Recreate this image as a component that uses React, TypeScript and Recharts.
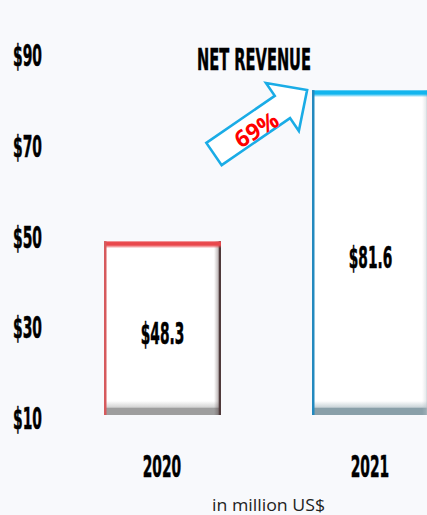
import { BarChart, Bar, XAxis, YAxis, LabelList } from "recharts";

const YEARS = ["2020", "2021"];
const NET_REVENUE = [48.3, 81.6];
const Y_TICKS = [10, 30, 50, 70, 90];
const GROWTH_LABEL = "69%";
const TITLE = "NET REVENUE";
const UNIT_NOTE = "in million US$";

const chartData = YEARS.map((year, i) => ({ year, value: NET_REVENUE[i] }));

const BG = "#f8f9fc";
const CONDENSED = "'Liberation Sans Narrow', 'DejaVu Sans Condensed', 'Liberation Sans', sans-serif";

// edge colours for the bevelled bars, one per year
const BAR_EDGES = [
  { top: "#e9474c", left: "#d65a5d", right: "#4f3a3b", bottom: "#9e9e9e" },
  { top: "#12b5ee", left: "#2389bf", right: "#b8c2c8", bottom: "#8aa0a9" },
];

function CondensedText({ x, y, width, size = 31, anchor = "middle", children }: any) {
  return (
    <text
      x={x}
      y={y}
      textAnchor={anchor}
      textLength={width}
      lengthAdjust="spacingAndGlyphs"
      fontFamily={CONDENSED}
      fontWeight={700}
      fontSize={size}
      fill="#000"
      stroke="#000"
      strokeWidth={0.5}
    >
      {children}
    </text>
  );
}

function YTick({ y, payload }: any) {
  return (
    <CondensedText x={13} y={y + 14} width={29} anchor="start">
      {`$${payload.value}`}
    </CondensedText>
  );
}

function XTick({ x, y, payload }: any) {
  return (
    <CondensedText x={x} y={y + 62} width={38.5}>
      {payload.value}
    </CondensedText>
  );
}

function ValueLabel({ x, y, width, height, value }: any) {
  return (
    <CondensedText x={x + width / 2} y={y + height / 2 + 15.5} width={43.5}>
      {`$${value}`}
    </CondensedText>
  );
}

function BevelBar({ x, y, width, height, index }: any) {
  const e = BAR_EDGES[index % BAR_EDGES.length];
  const id = `bevel-${index}`;
  return (
    <g>
      <defs>
        <linearGradient id={`${id}-b`} x1="0" y1="0" x2="0" y2="1">
          <stop offset="0" stopColor={e.bottom} stopOpacity={0} />
          <stop offset="0.45" stopColor={e.bottom} stopOpacity={0.45} />
          <stop offset="0.5" stopColor={e.bottom} stopOpacity={1} />
          <stop offset="1" stopColor={e.bottom} stopOpacity={1} />
        </linearGradient>
        <linearGradient id={`${id}-r`} x1="0" y1="0" x2="1" y2="0">
          <stop offset="0" stopColor={e.right} stopOpacity={0} />
          <stop offset="0.6" stopColor={e.right} stopOpacity={0.35} />
          <stop offset="0.75" stopColor={e.right} stopOpacity={1} />
          <stop offset="1" stopColor={e.right} stopOpacity={1} />
        </linearGradient>
        <linearGradient id={`${id}-t`} x1="0" y1="0" x2="0" y2="1">
          <stop offset="0" stopColor={e.top} stopOpacity={0.7} />
          <stop offset="0.2" stopColor={e.top} />
          <stop offset="0.55" stopColor={e.top} />
          <stop offset="1" stopColor={e.top} stopOpacity={0} />
        </linearGradient>
      </defs>
      <rect x={x} y={y} width={width} height={height} fill="#fff" />
      <rect x={x} y={y + height - 14} width={width} height={14} fill={`url(#${id}-b)`} />
      <rect x={x + width - 7} y={y} width={7} height={height} fill={`url(#${id}-r)`} />
      <rect x={x} y={y} width={width} height={7} fill={`url(#${id}-t)`} />
      <rect x={x} y={y} width={2.5} height={height} fill={e.left} />
    </g>
  );
}

function GrowthArrow() {
  // block arrow pointing from the 2020 side up to the 2021 bar
  const pts = "0,-13.5 83,-13.5 83,-29 113,0 83,29 83,13.5 0,13.5";
  return (
    <g>
      <polygon
        points={pts}
        transform="translate(214,154) rotate(-34.5)"
        fill="#fff"
        stroke="#1aace6"
        strokeWidth={2.6}
        strokeLinejoin="miter"
      />
      <text
        x={0}
        y={0}
        transform="translate(256,129) rotate(-31)"
        textAnchor="middle"
        dominantBaseline="central"
        fontFamily="'Open Sans', 'Noto Sans', sans-serif"
        fontWeight={700}
        fontSize={23}
        fill="#ff0000"
      >
        {GROWTH_LABEL}
      </text>
    </g>
  );
}

export default function App() {
  return (
    <div
      style={{
        position: "absolute",
        left: 0,
        top: 0,
        width: 427,
        height: 515,
        overflow: "hidden",
        background: BG,
      }}
    >
      <BarChart
        width={474}
        height={515}
        data={chartData}
        margin={{ top: 52, right: 0, bottom: 0, left: 0 }}
      >
        <XAxis
          dataKey="year"
          height={100}
          axisLine={false}
          tickLine={false}
          tickSize={0}
          tickMargin={0}
          tick={<XTick />}
          interval={0}
        />
        <YAxis
          width={58}
          domain={[10, 90]}
          ticks={Y_TICKS}
          allowDataOverflow
          axisLine={false}
          tickLine={false}
          tick={<YTick />}
          interval={0}
        />
        <Bar dataKey="value" barSize={117} shape={<BevelBar />} isAnimationActive={false}>
          <LabelList dataKey="value" content={<ValueLabel />} />
        </Bar>
      </BarChart>

      {/* title, growth arrow and unit note sit on top of the chart */}
      <svg
        width={427}
        height={515}
        style={{ position: "absolute", left: 0, top: 0, pointerEvents: "none" }}
      >
        <CondensedText x={254} y={70} width={114}>
          {TITLE}
        </CondensedText>
        <GrowthArrow />
        <text
          x={268.5}
          y={511}
          textAnchor="middle"
          fontFamily="'Open Sans', 'Noto Sans', sans-serif"
          fontSize={16}
          textLength={113}
          lengthAdjust="spacingAndGlyphs"
          fill="#222"
        >
          {UNIT_NOTE}
        </text>
      </svg>
    </div>
  );
}
